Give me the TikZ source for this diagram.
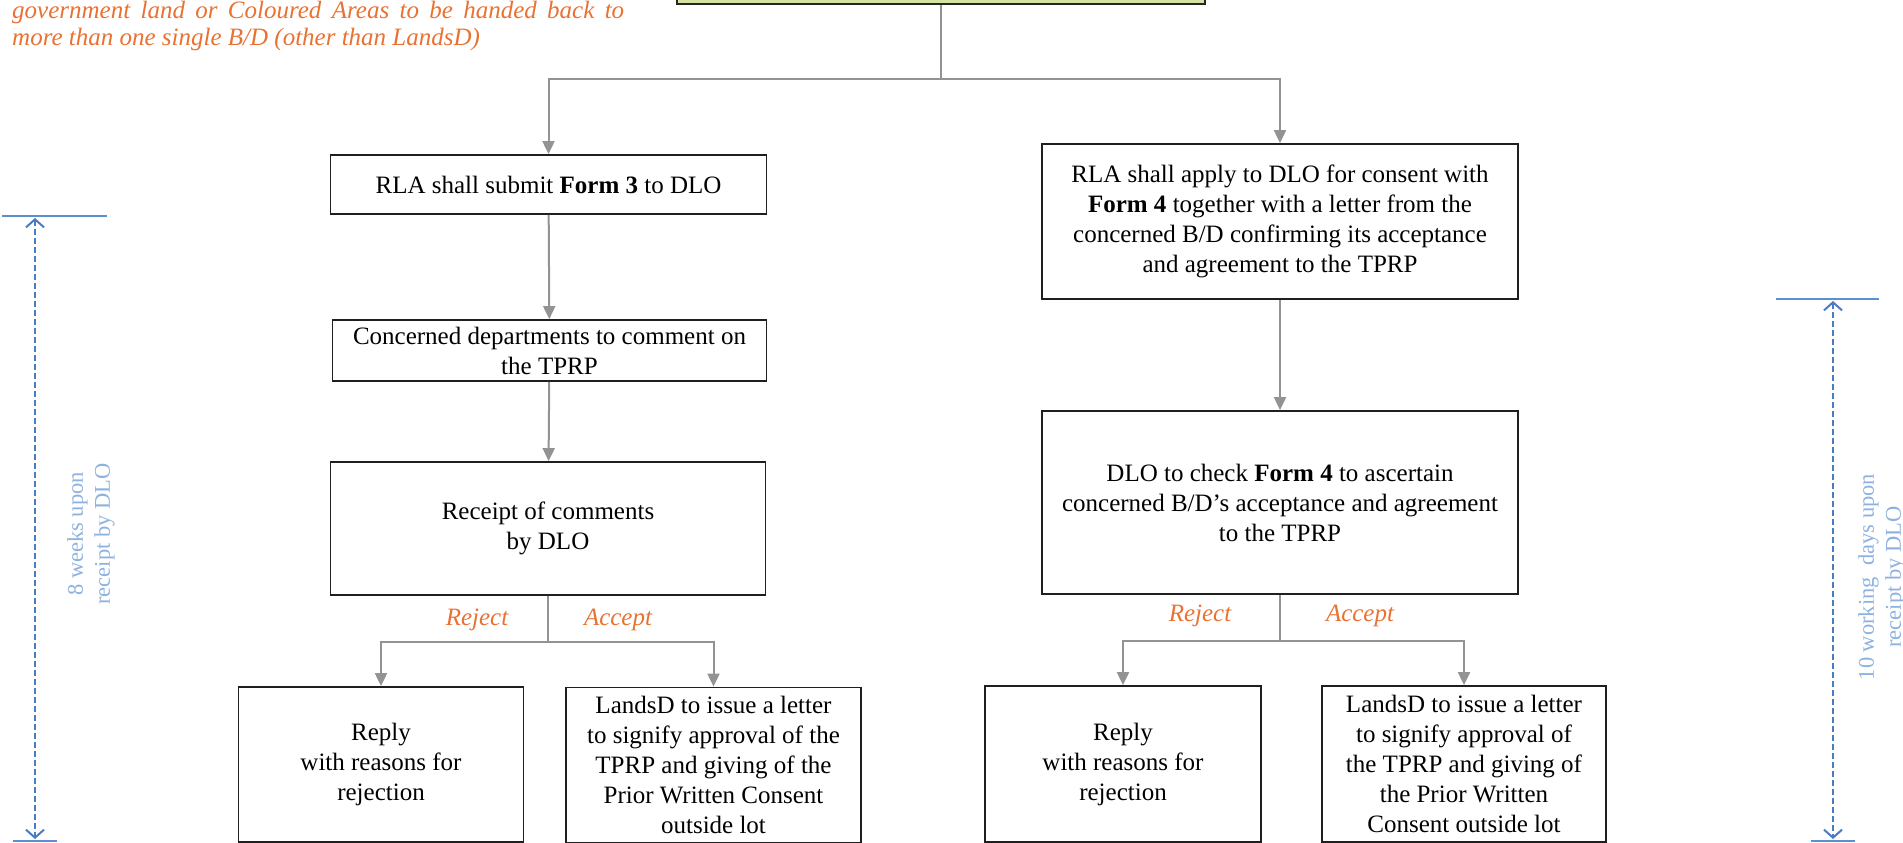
\documentclass[tikz,border=0pt]{standalone}
\usepackage{fontspec}
\setmainfont{Liberation Serif}
\usetikzlibrary{arrows.meta}
\definecolor{gline}{HTML}{939393}
\definecolor{orng}{HTML}{E97132}
\definecolor{tblue}{HTML}{5B8FD0}
\definecolor{dblue}{HTML}{4A7CC4}
\definecolor{lblue}{HTML}{8EB2E0}
\definecolor{topfill}{HTML}{D5E3A2}
\begin{document}
\begin{tikzpicture}[x=1pt,y=-1pt,
  box/.style={draw=black!88, line width=1.8pt, align=center, inner sep=2pt, fill=white,
    font=\fontsize{25}{30}\selectfont},
  conn/.style={draw=gline, line width=2pt, -{Triangle[length=13pt,width=12pt]}},
  lab/.style={text=orng, font=\fontsize{25}{30}\selectfont\itshape},
  notetext/.style={anchor=base west, inner sep=0, text=orng, font=\fontsize{25}{27}\selectfont\itshape},
  tick/.style={draw=tblue, line width=1.6pt},
  dar/.style={draw=dblue, line width=2pt, dash pattern=on 6pt off 3pt,
    {Straight Barb[length=8pt,width=18pt]}-{Straight Barb[length=8pt,width=18pt]}},
  ttext/.style={text=lblue, font=\fontsize{22.5}{27}\selectfont, align=center, rotate=90}]
\useasboundingbox (0,0) rectangle (1903,843);

% top note
\node[notetext] (note1) at (12,19)
  {\makebox[612pt][s]{government land or Coloured Areas to be handed back to}};
\node[notetext] (note2) at (12,46)
  {more than one single B/D (other than LandsD)};

% top box
\node[draw=black!85, line width=2pt, fill=topfill, minimum width=528pt, minimum height=50pt] (top) at (941,-21) {};

% left column
\node[box, minimum width=436pt, minimum height=59pt] (L1) at (548.5,184.5) {RLA shall submit \textbf{Form 3} to DLO};
\node[box, minimum width=434pt, minimum height=61pt] (L2) at (549.5,350.5) {Concerned departments to comment on\\the TPRP};
\node[box, minimum width=435pt, minimum height=133pt] (L3) at (548,528.5) {Receipt of comments\\by DLO};
\node[box, minimum width=285pt, minimum height=155pt] (L4) at (381,764.5) {Reply\\with reasons for\\rejection};
\node[box, minimum width=295pt, minimum height=155pt, inner sep=0pt] (L5) at (713.5,765) {LandsD to issue a letter\\to signify approval of the\\TPRP and giving of the\\Prior Written Consent\\outside lot};

% right column
\node[box, minimum width=476pt, minimum height=155pt] (R1) at (1280,221.5) {RLA shall apply to DLO for consent with\\\textbf{Form 4} together with a letter from the\\concerned B/D confirming its acceptance\\and agreement to the TPRP};
\node[box, minimum width=476pt, minimum height=183pt] (R2) at (1280,502.5) {DLO to check \textbf{Form 4} to ascertain\\concerned B/D’s acceptance and agreement\\to the TPRP};
\node[box, minimum width=276pt, minimum height=156pt] (R3) at (1123,764) {Reply\\with reasons for\\rejection};
\node[box, minimum width=284pt, minimum height=156pt, inner sep=0pt] (R4) at (1464,764) {LandsD to issue a letter\\to signify approval of\\the TPRP and giving of\\the Prior Written\\Consent outside lot};

% connectors
\draw[conn] (top.south) -- ++(0,74) -| (L1.north);
\draw[conn] (top.south) -- ++(0,74) -| (R1.north);
\draw[conn] (L1) -- (L2);
\draw[conn] (L2) -- (L3);
\draw[conn] (R1.south) -- (R2.north);
\draw[conn] (L3.south) -- ++(0,46) -| (L4.north);
\draw[conn] (L3.south) -- ++(0,46) -| (L5.north);
\draw[conn] (R2.south) -- ++(0,46) -| (R3.north);
\draw[conn] (R2.south) -- ++(0,46) -| (R4.north);

% labels
\node[lab] (rejL) at (477,620) {Reject};
\node[lab] (accL) at (618,620) {Accept};
\node[lab] (rejR) at (1200,616) {Reject};
\node[lab] (accR) at (1360,616) {Accept};

% left timeline
\coordinate (lt1) at (2,216);
\coordinate (lt2) at (107,216);
\coordinate (lb1) at (13,841);
\coordinate (lb2) at (57,841);
\coordinate (la1) at (35,218);
\coordinate (la2) at (35,839);
\draw[tick] (lt1) -- (lt2);
\draw[tick] (lb1) -- (lb2);
\draw[dar] (la1) -- (la2);
\node[ttext] (ltxt) at (91,534) {8 weeks upon\\receipt by DLO};

% right timeline
\coordinate (rt1) at (1776,299);
\coordinate (rt2) at (1879,299);
\coordinate (rb1) at (1811,841);
\coordinate (rb2) at (1855,841);
\coordinate (ra1) at (1833,301);
\coordinate (ra2) at (1833,839);
\draw[tick] (rt1) -- (rt2);
\draw[tick] (rb1) -- (rb2);
\draw[dar] (ra1) -- (ra2);
\node[ttext] (rtxt) at (1882,577) {10 working\ \ days upon\\receipt by DLO};
\end{tikzpicture}
\end{document}
